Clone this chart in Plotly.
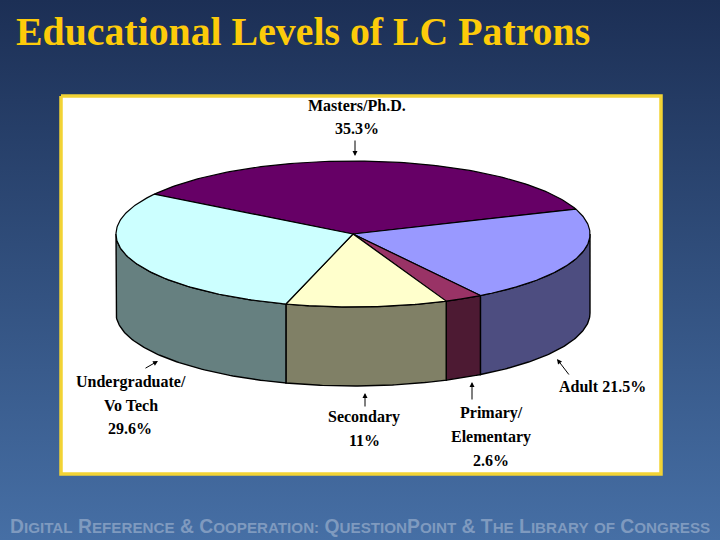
import numpy as np
import plotly.graph_objects as go

names = ["Masters/Ph.D.", "Adult", "Primary/Elementary", "Secondary", "Undergraduate/Vo Tech"]
shares = [35.3, 21.5, 2.6, 11.0, 29.6]
top_colors = ["#660066", "#9999ff", "#993366", "#ffffcc", "#ccffff"]
side_colors = ["#330033", "#4d4d80", "#4d1a33", "#808066", "#668080"]
start_angle = 147.0

CX, CY, A, B, DEPTH = 353.0, 234.0, 237.0, 73.0, 79.0
INK = "#000000"
SERIF = "Liberation Serif"
SMALL = 15.2

fig = go.Figure()

# background
fig.add_trace(go.Scatter(x=[0, 720, 720, 0, 0], y=[0, 0, 540, 540, 0], mode="lines",
                         line=dict(width=0), fill="toself", hoverinfo="skip",
                         fillgradient=dict(type="vertical",
                                           colorscale=[[0, "#466fa5"], [1, "#1c2f55"]])))
# panel
fig.add_trace(go.Scatter(x=[61, 661, 661, 61, 61], y=[96, 96, 474, 474, 96], mode="lines",
                         line=dict(color="#f2d335", width=3.5), fill="toself",
                         fillcolor="#ffffff", hoverinfo="skip"))

def ell(t):
    r = np.radians(t)
    return CX + A * np.cos(r), CY - B * np.sin(r)

# sweep clockwise from the start angle
edges = [start_angle]
for s in shares:
    edges.append(edges[-1] - s * 3.6)

# side walls (only the front half of the rim is visible)
for i, s in enumerate(shares):
    hi, lo = edges[i], edges[i + 1]
    a = min(hi, 0.0)
    b = max(lo, -180.0)
    if a <= b:
        continue
    t = np.linspace(a, b, 80)
    x, y = ell(t)
    fig.add_trace(go.Scatter(x=np.r_[x, x[::-1], x[0]], y=np.r_[y, y[::-1] + DEPTH, y[0]],
                             mode="lines", line=dict(color=INK, width=1.4), fill="toself",
                             fillcolor=side_colors[i], hoverinfo="skip"))
# top faces
for i, s in enumerate(shares):
    t = np.linspace(edges[i], edges[i + 1], 120)
    x, y = ell(t)
    fig.add_trace(go.Scatter(x=np.r_[CX, x, CX], y=np.r_[CY, y, CY], mode="lines",
                             line=dict(color=INK, width=1.2), fill="toself",
                             fillcolor=top_colors[i], hoverinfo="skip", name=names[i]))

annotations = []
def label(text, x, y, size=16):
    annotations.append(dict(x=x, y=y, text="<b>" + text + "</b>", showarrow=False, xanchor="center",
                            yanchor="middle", align="center",
                            font=dict(family=SERIF, size=size, color="#000000")))

def arrow(x0, y0, x1, y1):
    annotations.append(dict(x=x1, y=y1, ax=x0, ay=y0, axref="x", ayref="y", xref="x", yref="y", text="",
                            showarrow=True, arrowhead=2, arrowsize=1, arrowwidth=1, arrowcolor="#000000"))

label("Masters/Ph.D.", 357, 105)
label("35.3%", 357, 128)
label("Undergraduate/", 131, 382)
label("Vo Tech", 131, 405)
label("29.6%", 130, 428)
label("Secondary", 364, 417)
label("11%", 364, 440)
label("Primary/", 491, 413)
label("Elementary", 491, 437)
label("2.6%", 491, 460)
label("Adult 21.5%", 602, 386)

arrow(355, 139, 355, 156)
arrow(144, 369, 158, 361)
arrow(365, 408, 365, 393)
arrow(472, 401, 472, 382)
arrow(570, 376, 557, 359)

# title
annotations.append(dict(x=14, y=32, text="<b>Educational Levels of LC Patrons</b>", showarrow=False,
                        xanchor="left", yanchor="middle",
                        font=dict(family=SERIF, size=39.8, color="#fdcb0a")))

# footer with small capitals
def sm(s):
    return '<span style="font-size:%spx">%s</span>' % (SMALL, s)

footer_words = [("D", "IGITAL"), ("R", "EFERENCE"), ("&amp;", ""), ("C", "OOPERATION:"),
                ("Q", "UESTION", "P", "OINT"), ("&amp;", ""), ("T", "HE"), ("L", "IBRARY"),
                ("", "OF"), ("C", "ONGRESS")]
parts = []
for w in footer_words:
    parts.append("".join(p if k % 2 == 0 else sm(p) for k, p in enumerate(w)))
annotations.append(dict(x=8, y=526, text="<b>" + " ".join(parts) + "</b>", showarrow=False,
                        xanchor="left", yanchor="middle",
                        font=dict(family="Liberation Sans", size=19.3, color="#7f9abf")))

fig.update_layout(width=720, height=540, margin=dict(l=0, r=0, t=0, b=0), showlegend=False,
                  paper_bgcolor="#2c4a78", plot_bgcolor="#2c4a78",
                  xaxis=dict(range=[0, 720], visible=False, fixedrange=True),
                  yaxis=dict(range=[540, 0], visible=False, fixedrange=True),
                  annotations=annotations)
fig.write_html("out.html", config=dict(displayModeBar=False),
               post_script="document.body.style.margin='0';")
